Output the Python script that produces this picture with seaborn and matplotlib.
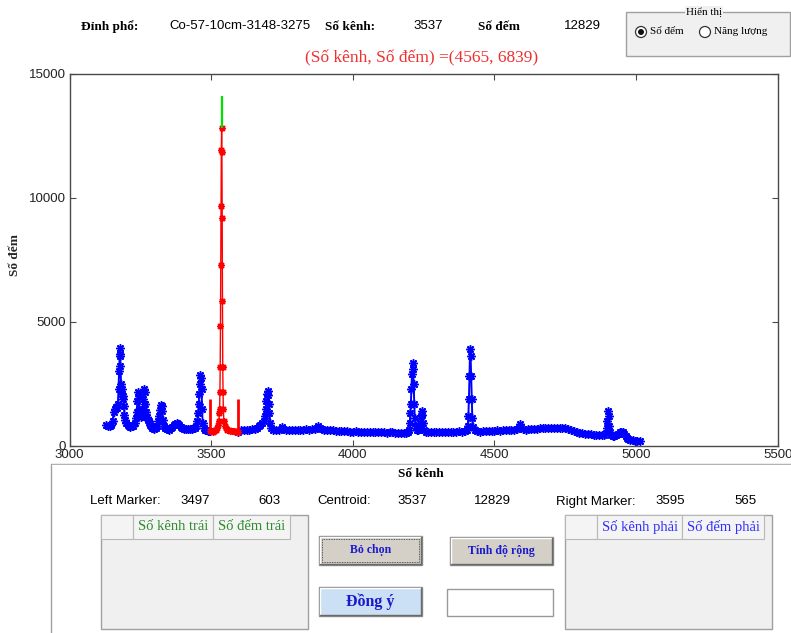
import matplotlib
matplotlib.use("Agg")
import matplotlib.pyplot as plt
from matplotlib.patches import Rectangle, Circle
from matplotlib.transforms import Affine2D
import pandas as pd
import seaborn as sns

# ---- spectrum: channel / counts ----
left_channels = [3130, 3136, 3142, 3148, 3152, 3156, 3160, 3164, 3168, 3171, 3173, 3175, 3177, 3178,
                 3179, 3180, 3182, 3184, 3186, 3188, 3190, 3192, 3194, 3197, 3200, 3205, 3210, 3215,
                 3220, 3225, 3230, 3234, 3237, 3240, 3242, 3244, 3246, 3249, 3252, 3255, 3258, 3261,
                 3263, 3265, 3267, 3270, 3273, 3276, 3280, 3284, 3288, 3292, 3296, 3300, 3305, 3310,
                 3314, 3317, 3320, 3323, 3325, 3327, 3330, 3334, 3338, 3343, 3348, 3353, 3358, 3363,
                 3368, 3373, 3378, 3383, 3388, 3393, 3398, 3403, 3410, 3417, 3424, 3431, 3437, 3442,
                 3447, 3451, 3454, 3456, 3458, 3460, 3462, 3464, 3466, 3468, 3470, 3474, 3478, 3483,
                 3488, 3493, 3497]
left_counts = [820, 800, 810, 850, 980, 1350, 1500, 1550, 1520, 1700, 2300, 3000, 3600, 3950,
               3700, 3200, 2500, 2300, 2100, 1900, 2000, 1600, 1250, 1050, 900, 820, 790, 760,
               780, 800, 900, 1100, 1350, 1800, 2150, 2000, 1500, 1300, 1150, 1200, 1500, 1900,
               2300, 2150, 1700, 1350, 1150, 1050, 1000, 850, 780, 720, 700, 690, 720, 800,
               1000, 1200, 1450, 1650, 1600, 1400, 1050, 800, 700, 680, 660, 650, 700, 760,
               820, 880, 930, 880, 820, 760, 720, 690, 680, 670, 660, 680, 700, 720,
               800, 1000, 1300, 1700, 2100, 2500, 2850, 2750, 2300, 1500, 900, 700, 650, 620,
               610, 600, 603]

peak_channels = [3497, 3501, 3505, 3509, 3513, 3517, 3521, 3524, 3527, 3529, 3530, 3531, 3532, 3533,
                 3534, 3535, 3536, 3537, 3538, 3539, 3540, 3541, 3542, 3543, 3545, 3548, 3552, 3557,
                 3562, 3567, 3572, 3577, 3582, 3587, 3591, 3595]
peak_counts = [603, 580, 560, 590, 620, 640, 700, 850, 1000, 1300, 1500, 2180, 3190, 4850,
               7310, 9665, 11920, 12829, 11850, 9190, 5850, 3190, 2180, 1500, 1000, 800, 700, 640,
               620, 600, 590, 600, 580, 570, 575, 565]

right_channels = [3595, 3605, 3615, 3625, 3635, 3645, 3655, 3662, 3668, 3674, 3680, 3685, 3689, 3692,
                  3695, 3698, 3700, 3702, 3704, 3706, 3709, 3713, 3720, 3730, 3740, 3749, 3755, 3765,
                  3775, 3785, 3795, 3805, 3815, 3825, 3835, 3845, 3855, 3865, 3872, 3878, 3884, 3890,
                  3900, 3910, 3920, 3930, 3940, 3950, 3960, 3970, 3980, 3990, 4000, 4010, 4020, 4030,
                  4040, 4050, 4060, 4070, 4080, 4090, 4100, 4110, 4120, 4130, 4140, 4150, 4160, 4170,
                  4180, 4188, 4194, 4198, 4201, 4203, 4205, 4207, 4209, 4211, 4213, 4215, 4217, 4219,
                  4222, 4226, 4230, 4234, 4237, 4240, 4243, 4246, 4249, 4253, 4258, 4265, 4275, 4285,
                  4295, 4305, 4315, 4325, 4335, 4345, 4355, 4365, 4375, 4385, 4395, 4402, 4406, 4408,
                  4410, 4412, 4414, 4416, 4418, 4420, 4422, 4425, 4430, 4440, 4450, 4460, 4470, 4480,
                  4490, 4500, 4510, 4520, 4530, 4540, 4550, 4560, 4570, 4580, 4586, 4590, 4594, 4600,
                  4610, 4620, 4630, 4640, 4650, 4660, 4670, 4680, 4690, 4700, 4710, 4720, 4730, 4740,
                  4750, 4760, 4770, 4780, 4790, 4800, 4810, 4820, 4830, 4840, 4850, 4860, 4870, 4880,
                  4888, 4893, 4896, 4899, 4902, 4904, 4906, 4909, 4913, 4918, 4923, 4928, 4935, 4942,
                  4948, 4953, 4958, 4963, 4968, 4973, 4980, 4988, 4996, 5005, 5014]
right_counts = [565, 640, 620, 650, 630, 660, 680, 720, 780, 850, 920, 1000, 1200, 1500,
                1800, 2100, 2200, 2050, 1700, 1300, 900, 700, 640, 620, 650, 770, 680, 640,
                620, 650, 630, 640, 620, 640, 660, 650, 670, 690, 720, 800, 720, 660,
                650, 640, 620, 640, 610, 600, 590, 610, 580, 570, 560, 580, 560, 550,
                570, 560, 540, 560, 550, 540, 560, 540, 530, 550, 540, 520, 530, 510,
                520, 520, 560, 650, 900, 1300, 1700, 2300, 2900, 3350, 3100, 2500, 1700, 1100,
                800, 650, 620, 700, 900, 1200, 1400, 1250, 900, 650, 560, 540, 550, 540,
                560, 550, 560, 550, 570, 560, 570, 560, 580, 570, 600, 650, 800, 1200,
                1900, 2800, 3900, 3600, 2800, 1900, 1100, 750, 620, 580, 570, 580, 590, 600,
                610, 600, 620, 610, 630, 620, 640, 630, 650, 660, 720, 870, 740, 660,
                650, 660, 670, 680, 690, 700, 710, 720, 730, 720, 730, 720, 730, 720,
                710, 680, 630, 580, 540, 520, 500, 480, 470, 460, 450, 440, 430, 430,
                440, 520, 700, 1000, 1400, 1200, 800, 550, 440, 400, 390, 420, 480, 540,
                570, 550, 480, 380, 310, 260, 230, 210, 200, 190, 180]

# region markers
marker_channels = [3497, 3595]
marker_counts = [603, 565]
marker_top = 1900
centroid_channel = 3537
centroid_count = 12829
centroid_top = 14100

x_ticks = [3000, 3500, 4000, 4500, 5000, 5500]
y_ticks = [0, 5000, 10000, 15000]

W, H, DPI = 791, 633, 100
sns.set_style("ticks")
plt.rcParams["font.family"] = ["Liberation Sans", "DejaVu Sans"]
SERIF = ["Liberation Serif", "DejaVu Serif"]
SANS = ["Liberation Sans", "DejaVu Sans"]

fig = plt.figure(figsize=(W / DPI, H / DPI), dpi=DPI, facecolor="white")
# pixel coordinates measured from the top-left corner of the window
PX = Affine2D().scale(1 / DPI, -1 / DPI).translate(0, H / DPI) + fig.dpi_scale_trans


def txt(x, y, s, size=9.5, family=SANS, weight="normal", color="black", ha="left", **kw):
    fig.text(x, y, s, transform=PX, fontsize=size, family=family, weight=weight,
             color=color, ha=ha, va="center", **kw)


def box(x0, y0, x1, y1, fc="none", ec="#a0a0a0", lw=1.0, **kw):
    fig.patches.append(Rectangle((x0, y0), x1 - x0, y1 - y0, transform=PX, fc=fc, ec=ec,
                                 lw=lw, **kw))


# ---- axes with the spectrum ----
ax = fig.add_axes([69.5 / W, 1 - 445.7 / H, (777.7 - 69.5) / W, (445.7 - 74) / H])
ax.set_facecolor("white")

star = (8, 2, 0)
common = dict(ax=ax, estimator=None, sort=False, marker=star, markersize=6,
              markeredgewidth=1.1, linewidth=1.4, legend=False)
sns.lineplot(data=pd.DataFrame({"ch": left_channels, "n": left_counts}), x="ch", y="n",
             color="#0000ff", markeredgecolor="#0000ff", **common)
sns.lineplot(data=pd.DataFrame({"ch": right_channels, "n": right_counts}), x="ch", y="n",
             color="#0000ff", markeredgecolor="#0000ff", **common)
sns.lineplot(data=pd.DataFrame({"ch": peak_channels, "n": peak_counts}), x="ch", y="n",
             color="#ff0000", markeredgecolor="#ff0000", ax=ax, estimator=None, sort=False,
             marker=star, markersize=5, markeredgewidth=1.0, linewidth=1.0, legend=False)

ax.vlines(marker_channels, marker_counts, marker_top, colors="#ff0000", linewidth=2.0)
ax.vlines([centroid_channel], [centroid_count], centroid_top, colors="#00e000", linewidth=1.6)

ax.set_xlim(3000, 5500)
ax.set_ylim(0, 15000)
ax.set_xticks(x_ticks)
ax.set_yticks(y_ticks)
ax.set_xlabel("")
ax.set_ylabel("")
for sp in ax.spines.values():
    sp.set_visible(True)
    sp.set_color("#4a4a4a")
    sp.set_linewidth(1.0)
ax.tick_params(direction="in", length=4, width=0.8, color="#4a4a4a", top=True, right=True,
               labelsize=9.5, labelcolor="#222222", pad=2.5)
for lab in ax.get_xticklabels() + ax.get_yticklabels():
    lab.set_family(SANS)

txt(421, 474, "Số kênh", size=9.5, family=SERIF, weight="bold", ha="center")
fig.text(15, 255, "Số đếm", transform=PX, fontsize=9.5, family=SERIF, weight="bold",
         rotation=90, ha="center", va="center")

# ---- header line ----
txt(81, 27, "Đỉnh phổ:", family=SERIF, weight="bold")
txt(169, 26, "Co-57-10cm-3148-3275")
txt(325, 27, "Số kênh:", family=SERIF, weight="bold")
txt(413, 26, "3537")
txt(478, 27, "Số đếm", family=SERIF, weight="bold")
txt(564, 26, "12829")
txt(421.5, 58, "(Số kênh, Số đếm) =(4565, 6839)", size=12.5, family=SERIF,
    color="#f03030", ha="center")

# display mode group
box(626, 12, 790, 56, fc="#f0f0f0", ec="#a0a0a0")
txt(704, 12, "Hiển thị", size=8, family=SERIF, ha="center",
    bbox=dict(fc="#f0f0f0", ec="none", pad=1))
for cx in (641, 705):
    fig.patches.append(Circle((cx, 32), 5.5, transform=PX, fc="white", ec="#333333", lw=0.9))
fig.patches.append(Circle((641, 32), 3.0, transform=PX, fc="#111111", ec="none"))
txt(650, 32, "Số đếm", size=8, family=SERIF)
txt(714, 32, "Năng lượng", size=8, family=SERIF)

# ---- lower control panel ----
fig.add_artist(plt.Line2D([51, 791], [464, 464], transform=PX, color="#a0a0a0", lw=1))
fig.add_artist(plt.Line2D([51, 51], [464, 633], transform=PX, color="#a0a0a0", lw=1))
fig.add_artist(plt.Line2D([52, 791], [465, 465], transform=PX, color="white", lw=1))

y_info = 501.5
txt(90, y_info, "Left Marker:")
txt(180, y_info, "3497")
txt(258, y_info, "603")
txt(317, y_info, "Centroid:")
txt(397, y_info, "3537")
txt(474, y_info, "12829")
txt(556, y_info, "Right Marker:")
txt(655, y_info, "3595")
txt(734, y_info, "565")


def table(x0, x1, cols, labels, color):
    box(x0, 515, x1, 629, fc="#f0f0f0", ec="#a0a0a0")
    for a, b in zip(cols[:-1], cols[1:]):
        box(a, 515, b, 539, fc="#f4f4f4", ec="#b8b8b8", lw=0.8)
    for (a, b), s in zip(zip(cols[1:-1], cols[2:]), labels):
        txt((a + b) / 2, 527, s, size=10.5, family=SERIF, color=color, ha="center")


table(101, 308, [101, 133, 213, 290], ["Số kênh trái", "Số đếm trái"], "#2e8b2e")
table(565, 772, [565, 597, 682, 764], ["Số kênh phải", "Số đếm phải"], "#2f2fff")


def button(x0, y0, x1, y1, label, fc, size, focus=False):
    box(x0, y0, x1, y1, fc=fc, ec="#8a8a8a", lw=1.0)
    fig.add_artist(plt.Line2D([x0 + 1, x0 + 1, x1 - 1], [y1 - 1, y0 + 1, y0 + 1], transform=PX,
                              color="white", lw=1))
    fig.add_artist(plt.Line2D([x0 + 1, x1 - 1, x1 - 1], [y1 - 1, y1 - 1, y0 + 1], transform=PX,
                              color="#6a6a6a", lw=1))
    if focus:
        box(x0 + 3, y0 + 3, x1 - 3, y1 - 3, ec="#333333", lw=0.6, ls=(0, (1, 1)))
    txt((x0 + x1) / 2, (y0 + y1) / 2, label, size=size, family=SERIF, weight="bold",
        color="#1a1acc", ha="center")


button(319, 536, 422, 565, "Bỏ chọn", "#d4d0c8", 8.5, focus=True)
button(450, 537, 553, 565, "Tính độ rộng", "#d4d0c8", 8.5)
button(319, 587, 422, 616, "Đồng ý", "#cce0f5", 11.5)
box(447, 589, 553, 616, fc="white", ec="#9a9a9a")

fig.savefig("out.png", dpi=DPI, facecolor="white")
